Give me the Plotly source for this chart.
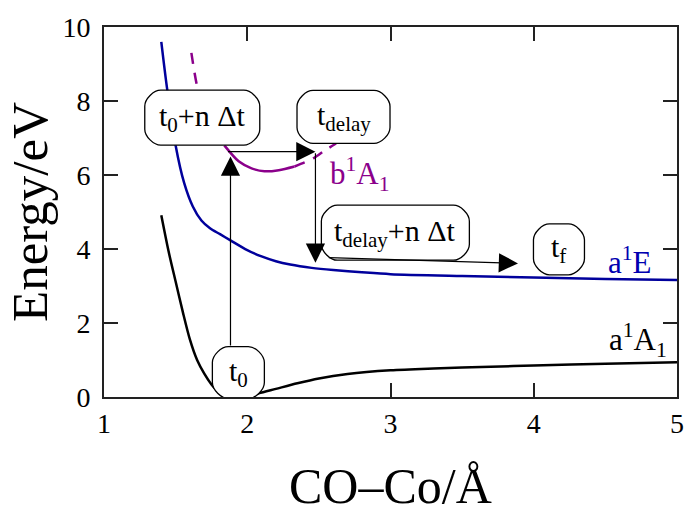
import plotly.graph_objects as go

# Potential energy curves along the CO–Co coordinate (Å) with energies in eV
r_a1A1 = [1.40, 1.45, 1.50, 1.55, 1.60, 1.65, 1.70, 1.75, 1.80, 1.86, 1.93, 2.00,
          2.08, 2.20, 2.35, 2.50, 2.70, 3.00, 3.30, 3.70, 4.00, 4.50, 5.00]
e_a1A1 = [4.91, 3.95, 3.12, 2.30, 1.55, 1.00, 0.63, 0.34, 0.14, 0.04, 0.00, 0.03,
          0.10, 0.22, 0.37, 0.50, 0.62, 0.72, 0.77, 0.82, 0.85, 0.90, 0.94]

r_a1E = [1.40, 1.44, 1.50, 1.56, 1.62, 1.68, 1.74, 1.81, 1.88, 2.00, 2.10, 2.20,
         2.30, 2.45, 2.60, 2.80, 3.00, 3.50, 4.00, 4.50, 5.00]
e_a1E = [9.60, 8.35, 6.80, 5.78, 5.15, 4.77, 4.56, 4.40, 4.24, 3.97, 3.80, 3.67,
         3.58, 3.49, 3.43, 3.37, 3.32, 3.27, 3.23, 3.19, 3.16]

# b1A1: solid near its minimum, dashed on both flanks
r_b1A1_left = [1.61, 1.65, 1.70, 1.76, 1.84]
e_b1A1_left = [9.30, 8.40, 7.75, 7.22, 6.80]
r_b1A1_mid = [1.84, 1.94, 2.03, 2.12, 2.22, 2.33]
e_b1A1_mid = [6.80, 6.37, 6.18, 6.10, 6.13, 6.23]
r_b1A1_right = [2.33, 2.40, 2.47, 2.54, 2.62]
e_b1A1_right = [6.23, 6.34, 6.47, 6.66, 6.85]

# Time-step boxes: label, centre (Å, eV), size (px)
box_labels = ["t<sub>0</sub>+n \u0394t", "t<sub>delay</sub>",
              "t<sub>delay</sub>+n \u0394t", "t<sub>f</sub>", "t<sub>0</sub>"]
box_x = [1.686, 2.672, 3.034, 4.176, 1.938]
box_y = [7.55, 7.57, 4.44, 3.99, 0.66]
box_w = [115, 93, 148, 51, 52]
box_h = [55, 53, 55, 51, 52]

# Propagation arrows: tail (x, y) -> head (x, y)
arrow_tail_x = [1.883, 1.855, 2.476, 2.559]
arrow_tail_y = [1.35, 6.63, 6.63, 3.77]
arrow_head_x = [1.883, 2.476, 2.476, 3.890]
arrow_head_y = [6.50, 6.63, 3.63, 3.61]

# State labels
state_labels = ["b<sup>1</sup>A<sub>1</sub>", "a<sup>1</sup>E", "a<sup>1</sup>A<sub>1</sub>"]
state_x = [2.79, 4.67, 4.73]
state_y = [6.02, 3.69, 1.55]
state_colors = ["#8b008b", "#0000b0", "#000000"]

PURPLE = "#8b008b"
BLUE = "#00009c"
FONT = "Liberation Serif, Times New Roman, serif"

fig = go.Figure()
fig.add_trace(go.Scatter(x=r_a1A1, y=e_a1A1, mode="lines",
                         line=dict(color="black", width=2.5, shape="spline", smoothing=0.8)))
fig.add_trace(go.Scatter(x=r_a1E, y=e_a1E, mode="lines",
                         line=dict(color=BLUE, width=2.5, shape="spline", smoothing=0.8)))
fig.add_trace(go.Scatter(x=r_b1A1_left, y=e_b1A1_left, mode="lines",
                         line=dict(color=PURPLE, width=2.5, dash="11px,9px",
                                   shape="spline", smoothing=0.8)))
fig.add_trace(go.Scatter(x=r_b1A1_mid, y=e_b1A1_mid, mode="lines",
                         line=dict(color=PURPLE, width=2.5, shape="spline", smoothing=0.8)))
fig.add_trace(go.Scatter(x=r_b1A1_right, y=e_b1A1_right, mode="lines",
                         line=dict(color=PURPLE, width=2.5, dash="11px,9px",
                                   shape="spline", smoothing=0.8)))


def rounded_rect(w, h, r):
    hw, hh = w / 2.0, h / 2.0
    k = 0.45 * r
    return (f"M{-hw + r},{-hh} L{hw - r},{-hh} "
            f"C{hw - r + k},{-hh} {hw},{-hh + r - k} {hw},{-hh + r} "
            f"L{hw},{hh - r} "
            f"C{hw},{hh - r + k} {hw - r + k},{hh} {hw - r},{hh} "
            f"L{-hw + r},{hh} "
            f"C{-hw + r - k},{hh} {-hw},{hh - r + k} {-hw},{hh - r} "
            f"L{-hw},{-hh + r} "
            f"C{-hw},{-hh + r - k} {-hw + r - k},{-hh} {-hw + r},{-hh} Z")


shapes = []
annotations = []
for lab, bx, by, bw, bh in zip(box_labels, box_x, box_y, box_w, box_h):
    shapes.append(dict(type="path", xref="x", yref="y",
                       xsizemode="pixel", ysizemode="pixel",
                       xanchor=bx, yanchor=by,
                       path=rounded_rect(bw, bh, 16),
                       fillcolor="white", line=dict(color="black", width=1.3),
                       layer="above"))
    annotations.append(dict(x=bx, y=by, xref="x", yref="y", text=lab,
                            showarrow=False, font=dict(family=FONT, size=30, color="black"),
                            xanchor="center", yanchor="middle"))

for tx, ty, hx, hy in zip(arrow_tail_x, arrow_tail_y, arrow_head_x, arrow_head_y):
    annotations.append(dict(x=hx, y=hy, ax=tx, ay=ty, xref="x", yref="y",
                            axref="x", ayref="y", text="", showarrow=True,
                            arrowhead=2, arrowsize=3.2, arrowwidth=1.2,
                            arrowcolor="black", standoff=0, startstandoff=0))

for lab, sx, sy, sc in zip(state_labels, state_x, state_y, state_colors):
    annotations.append(dict(x=sx, y=sy, xref="x", yref="y", text=lab,
                            showarrow=False, font=dict(family=FONT, size=31, color=sc),
                            xanchor="center", yanchor="middle"))

# Axis titles
annotations.append(dict(x=0.5, y=0, xref="paper", yref="paper", yshift=-89,
                        text="CO\u2013Co/\u00c5", showarrow=False,
                        font=dict(family=FONT, size=50, color="black"),
                        xanchor="center", yanchor="middle"))
annotations.append(dict(x=0, y=0.5, xref="paper", yref="paper", xshift=-74,
                        text="Energy/eV", showarrow=False, textangle=-90,
                        font=dict(family=FONT, size=51, color="black"),
                        xanchor="center", yanchor="middle"))

axis_common = dict(showgrid=False, zeroline=False, showline=True, linecolor="#222",
                   linewidth=2, mirror="ticks", ticks="inside", ticklen=14,
                   tickwidth=1.5, tickcolor="#222",
                   tickfont=dict(family=FONT, size=28, color="black"))

fig.update_layout(
    width=696, height=513,
    margin=dict(l=104, r=12, t=20, b=116),
    paper_bgcolor="white", plot_bgcolor="white",
    showlegend=False,
    font=dict(family=FONT),
    xaxis=dict(range=[1, 5], tickvals=[1, 2, 3, 4, 5], **axis_common),
    yaxis=dict(range=[0, 10], tickvals=[0, 2, 4, 6, 8, 10], ticklabelstandoff=6,
               **axis_common),
    shapes=shapes,
    annotations=annotations,
)

fig.write_html("out.html")
